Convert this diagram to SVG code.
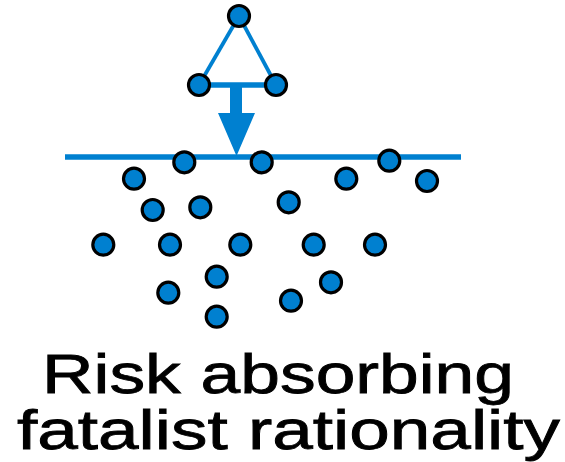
<svg xmlns="http://www.w3.org/2000/svg" width="565" height="462" viewBox="0 0 565 462">
<style>
.n{fill:#0080d0;stroke:#000;stroke-width:3.2}
.e{stroke:#0080d0;fill:none}
.t{font-family:"Liberation Sans",Arial,sans-serif;font-size:56px;fill:#000;stroke:#000;stroke-width:0.8}
</style>
<rect width="565" height="462" fill="#fff"/>
<g id="connectors">
<line class="e" x1="239" y1="16" x2="199" y2="85" stroke-width="3.8"/>
<line class="e" x1="239" y1="16" x2="276" y2="85" stroke-width="3.8"/>
<line class="e" x1="199" y1="85" x2="276" y2="85" stroke-width="5.5"/>
<line class="e" x1="65" y1="157" x2="461" y2="157" stroke-width="5.3"/>
<path d="M230,85 H242 V113 H255 L236.5,156 L218,113 H230 Z" fill="#0080d0"/>
</g>
<g id="top"><circle class="n" cx="239" cy="16" r="10.5"/></g>
<g id="left"><circle class="n" cx="199" cy="85" r="10.5"/></g>
<g id="right"><circle class="n" cx="276" cy="85" r="10.5"/></g>
<g id="dots">
<circle class="n" cx="184.3" cy="162.3" r="10.5"/>
<circle class="n" cx="261.7" cy="162.3" r="10.5"/>
<circle class="n" cx="389.3" cy="160.7" r="10.5"/>
<circle class="n" cx="134" cy="178.7" r="10.5"/>
<circle class="n" cx="346.3" cy="178.7" r="10.5"/>
<circle class="n" cx="427" cy="181" r="10.5"/>
<circle class="n" cx="152.7" cy="210" r="10.5"/>
<circle class="n" cx="200.3" cy="207.3" r="10.5"/>
<circle class="n" cx="288.7" cy="202.3" r="10.5"/>
<circle class="n" cx="103.3" cy="244.7" r="10.5"/>
<circle class="n" cx="170" cy="244.7" r="10.5"/>
<circle class="n" cx="240.3" cy="244.7" r="10.5"/>
<circle class="n" cx="313.7" cy="244.7" r="10.5"/>
<circle class="n" cx="375" cy="244.7" r="10.5"/>
<circle class="n" cx="216.7" cy="276.7" r="10.5"/>
<circle class="n" cx="168.3" cy="292.7" r="10.5"/>
<circle class="n" cx="331" cy="282.3" r="10.5"/>
<circle class="n" cx="291" cy="300.7" r="10.5"/>
<circle class="n" cx="216.7" cy="316.7" r="10.5"/>
</g>
<g id="label">
<text class="t" x="42" y="393" textLength="472" lengthAdjust="spacingAndGlyphs">Risk absorbing</text>
<text class="t" x="17" y="449" textLength="543" lengthAdjust="spacingAndGlyphs">fatalist rationality</text>
</g>
</svg>
